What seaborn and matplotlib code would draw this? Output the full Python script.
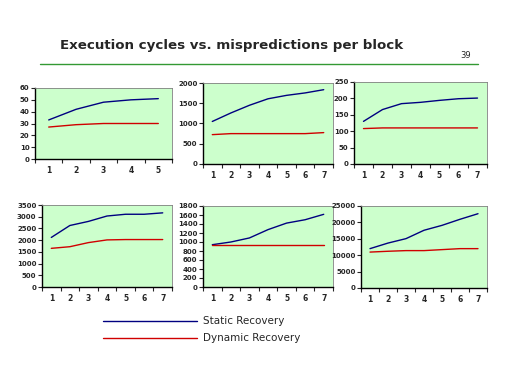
import pandas as pd
import seaborn as sns
import matplotlib.pyplot as plt
from matplotlib.lines import Line2D

sns.set_style('white')
plt.rcParams['font.family'] = ['DejaVu Sans']

# values
static_1 = [33, 42, 48, 50, 51]
dynamic_1 = [27, 29, 30, 30, 30]
static_2 = [1050, 1260, 1450, 1610, 1695, 1755, 1835]
dynamic_2 = [725, 750, 750, 750, 750, 750, 775]
static_3 = [130, 166, 184, 188, 194, 199, 201]
dynamic_3 = [108, 110, 110, 110, 110, 110, 110]
static_4 = [2115, 2625, 2800, 3030, 3105, 3105, 3165]
dynamic_4 = [1650, 1720, 1895, 2010, 2025, 2025, 2025]
static_5 = [940, 1000, 1090, 1275, 1420, 1495, 1615]
dynamic_5 = [940, 940, 940, 940, 940, 940, 940]
static_6 = [12000, 13700, 15050, 17600, 19100, 20950, 22650]
dynamic_6 = [10950, 11200, 11400, 11400, 11700, 12000, 12000]

y_ticks = [
    [0, 10, 20, 30, 40, 50, 60],
    [0, 500, 1000, 1500, 2000],
    [0, 50, 100, 150, 200, 250],
    [0, 500, 1000, 1500, 2000, 2500, 3000, 3500],
    [0, 200, 400, 600, 800, 1000, 1200, 1400, 1600, 1800],
    [0, 5000, 10000, 15000, 20000, 25000],
]
series = [(static_1, dynamic_1), (static_2, dynamic_2), (static_3, dynamic_3),
          (static_4, dynamic_4), (static_5, dynamic_5), (static_6, dynamic_6)]
labels = ['Static Recovery', 'Dynamic Recovery']
colors = {'Static Recovery': '#000080', 'Dynamic Recovery': '#D00000'}

# panel boxes in pixels: left, top, right, bottom
boxes = [(35, 88, 172, 159), (203, 83, 333, 164), (354, 82, 487, 164),
         (42, 205, 172, 287), (203, 206, 333, 287), (361, 206, 487, 288)]

W, H = 512, 384
fig = plt.figure(figsize=(W / 100, H / 100), dpi=100)

for (st, dy), ticks, (l, t, r, b) in zip(series, y_ticks, boxes):
    ax = fig.add_axes([l / W, 1 - b / H, (r - l) / W, (b - t) / H])
    n = len(st)
    df = pd.DataFrame({
        'block': list(range(1, n + 1)) * 2,
        'cycles': st + dy,
        'recovery': [labels[0]] * n + [labels[1]] * n,
    })
    sns.lineplot(data=df, x='block', y='cycles', hue='recovery',
                 palette=colors, ax=ax, legend=False, linewidth=1)
    ax.set_facecolor('#CCFFCC')
    ax.set_xlim(0.5, n + 0.5)
    ax.set_ylim(ticks[0], ticks[-1])
    ax.set_yticks(ticks)
    ax.set_yticklabels([str(v) for v in ticks], fontsize=5, fontweight='bold')
    ax.set_xticks(range(1, n + 1))
    ax.set_xticklabels([str(v) for v in range(1, n + 1)], fontsize=5.5, fontweight='bold')
    ax.set_xticks([k + 0.5 for k in range(0, n + 1)], minor=True)
    ax.tick_params(axis='x', which='major', length=0, pad=5)
    ax.tick_params(axis='x', which='minor', length=3, width=0.8, direction='out', bottom=True)
    ax.tick_params(axis='y', length=3, width=0.8, direction='out', left=True, pad=1)
    ax.set_xlabel('')
    ax.set_ylabel('')
    for side in ['top', 'right']:
        ax.spines[side].set_color('#808080')
        ax.spines[side].set_linewidth(0.6)
    for side in ['left', 'bottom']:
        ax.spines[side].set_color('black')
        ax.spines[side].set_linewidth(1)

fig.text(232 / W, 1 - 46 / H, 'Execution cycles vs. mispredictions per block',
         ha='center', va='center', fontsize=9.6, fontweight='bold')
fig.text(466 / W, 1 - 55 / H, '39', ha='center', va='center', fontsize=6)
fig.add_artist(Line2D([40 / W, 478 / W], [1 - 64 / H, 1 - 64 / H], color='#339933', linewidth=1))

# legend
for i, name in enumerate(labels):
    y = 1 - (321 + 17 * i) / H
    fig.add_artist(Line2D([103 / W, 197 / W], [y, y], color=colors[name], linewidth=1))
    fig.text(203 / W, y, name, ha='left', va='center', fontsize=7.5)

fig.savefig('out.png', dpi=100)
